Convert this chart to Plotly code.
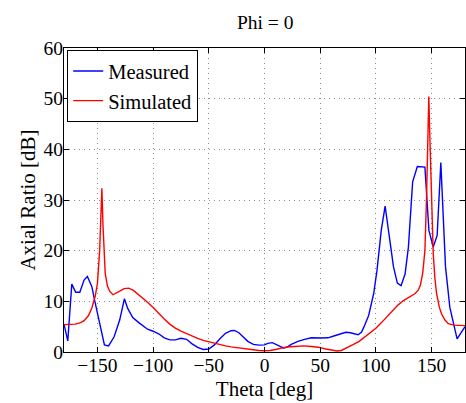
import plotly.graph_objects as go

theta_meas = [-180, -176.6, -173, -169.5, -165.8, -162, -159, -155, -152.6, -148, -143.7, -140,
              -135, -130, -125.8, -122.8, -118.3, -112.3, -105, -100, -95, -90, -85, -80, -75,
              -70, -65, -60, -55, -50, -45, -40, -35, -30, -27, -23, -20, -15, -10, -5, 0, 3,
              7, 11, 14, 17, 20, 24, 30, 36, 42, 50, 57, 63, 68, 73, 77, 81, 84, 87, 89, 93.5,
              98, 101, 104.8, 108.3, 111.9, 115.8, 119.3, 122.6, 126.2, 129.2, 133, 137.2, 144,
              147.6, 151.5, 155, 158.3, 162.5, 166.4, 172.9, 180]
ar_meas = [5.5, 2.2, 13.4, 11.8, 11.8, 14.2, 14.9, 12.9, 10.3, 5.7, 1.4, 1.2,
           3.0, 6.3, 10.5, 8.6, 6.8, 5.7, 4.5, 4.1, 3.6, 2.8, 2.4, 2.4, 2.7,
           2.5, 1.6, 0.9, 0.5, 0.6, 1.4, 2.6, 3.7, 4.2, 4.25, 3.8, 3.2, 2.1, 1.5, 1.35, 1.4, 1.7,
           1.85, 1.5, 1.1, 0.8, 0.9, 1.5, 2.1, 2.5, 2.8, 2.75, 2.8, 3.2, 3.6, 3.9, 3.8, 3.5, 3.4, 3.9, 4.8, 7.2,
           11.5, 16.1, 24, 28.8, 23.4, 16.8, 13.6, 13.1, 15.4, 20.7, 33.6, 36.6, 36.5,
           24, 20.7, 23, 37.4, 16.8, 8.8, 2.6, 5.0]

theta_sim = [-180, -170, -165, -162, -158, -155, -152, -150, -148, -147, -146, -145, -144, -143,
             -141, -139, -136, -133, -130, -126, -122, -118, -114, -110, -106, -100, -95, -90,
             -85, -80, -75, -70, -65, -60, -55, -50, -45, -40, -35, -30, -25, -20, -15, -10, -5,
             0, 5, 10, 15, 20, 27, 35, 42, 48, 54, 60, 65, 69, 74, 79, 85, 90, 95, 100, 105, 110,
             115, 120, 125, 130, 135, 138, 140, 142, 144, 145.5, 146.5, 147.5, 148.5, 149.4, 150.5,
             151.5, 153, 154.5, 157, 159, 162, 165, 170, 180]
ar_sim = [5.4, 5.5, 5.8, 6.2, 7.2, 8.7, 11, 13.5, 20, 25, 32.3, 25, 18.5, 15.5,
          13, 12, 11.3, 11.6, 12, 12.5, 12.6, 12.2, 11.5, 10.8, 10, 8.8, 7.6, 6.5,
          5.5, 4.7, 4.1, 3.6, 3.1, 2.7, 2.3, 2.0, 1.7, 1.4, 1.2, 1.0, 0.85, 0.75, 0.6, 0.45, 0.3,
          0.25, 0.3, 0.5, 0.8, 1.0, 1.1, 1.2, 1.1, 0.95, 0.65, 0.35, 0.2, 0.3, 0.8, 1.4, 2.1, 3.0, 3.8, 4.7, 5.8, 7.0,
          8.0, 9.3, 10.2, 10.8, 11.5, 12.2, 13.2, 15.5, 20, 30.7, 40, 50.4, 42, 34, 25,
          19.4, 14.5, 11.5, 8.8, 7.5, 6.3, 5.6, 5.3, 5.2]

x_ticks = [-150, -100, -50, 0, 50, 100, 150]
y_ticks = [0, 10, 20, 30, 40, 50, 60]

FONT = "Liberation Serif, Times New Roman, serif"

fig = go.Figure()
fig.add_trace(go.Scatter(x=theta_meas, y=ar_meas, mode="lines", name="Measured",
                         line=dict(color="#0000FF", width=1.4)))
fig.add_trace(go.Scatter(x=theta_sim, y=ar_sim, mode="lines", name="Simulated",
                         line=dict(color="#FF0000", width=1.4)))

axis_common = dict(showline=True, linecolor="black", linewidth=1, mirror="ticks",
                   ticks="inside", ticklen=5, tickcolor="black", automargin=False,
                   showgrid=True, gridcolor="#8a8a8a", griddash="1px,4px", gridwidth=1,
                   zeroline=False, tickfont=dict(family=FONT, size=19.5, color="black"))

fig.update_layout(
    width=466, height=403,
    margin=dict(l=64, r=1, t=48, b=51, autoexpand=False),
    paper_bgcolor="white", plot_bgcolor="white",
    font=dict(family=FONT, size=19, color="black"),
    title=dict(text="Phi = 0", x=0.569, xanchor="center", y=0.946, yanchor="middle",
               font=dict(family=FONT, size=19.5, color="black")),
    xaxis=dict(range=[-180, 180], tickvals=x_ticks, ticklabelstandoff=-4,
               title=dict(text="Theta [deg]", standoff=5, font=dict(family=FONT, size=21)),
               **axis_common),
    yaxis=dict(range=[0, 60], tickvals=y_ticks, ticklabelstandoff=-4,
               title=dict(text="Axial Ratio [dB]", standoff=2, font=dict(family=FONT, size=21)),
               **axis_common),
    legend=dict(x=0.008, y=0.993, xanchor="left", yanchor="top",
                bgcolor="white", bordercolor="black", borderwidth=1,
                font=dict(family=FONT, size=20.5, color="black"),
                tracegroupgap=0, itemwidth=30),
    showlegend=True,
)

# remove the default 8px page margin so the 466x403 figure fills the window exactly
fig.write_html("out.html", config={"displayModeBar": False},
               post_script="document.body.style.margin='0';document.body.style.overflow='hidden';")
